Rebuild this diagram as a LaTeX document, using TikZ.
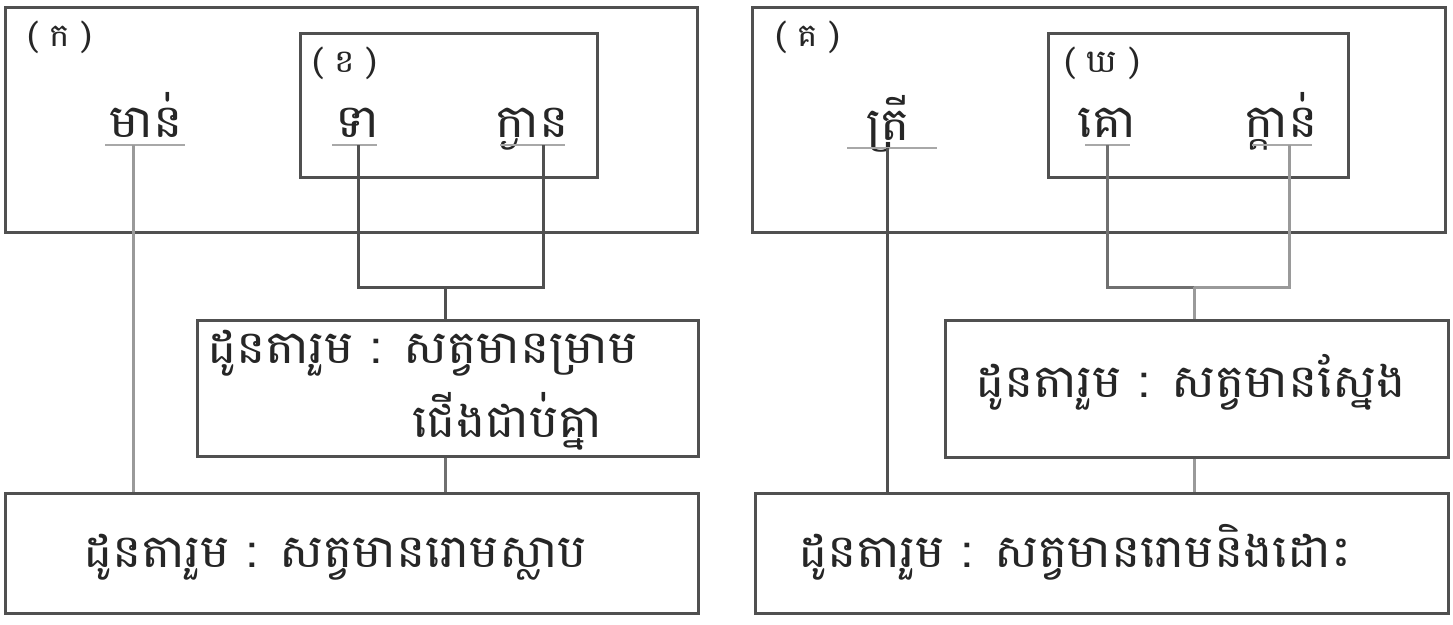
\documentclass[tikz,border=0pt]{standalone}
\usepackage{fontspec}
\newfontfamily\kh[Script=Khmer,FakeStretch=1.07]{Battambang}
\definecolor{linec}{HTML}{505050}
\definecolor{midc}{HTML}{707070}
\definecolor{lightc}{HTML}{9A9A9A}
\definecolor{ulc}{HTML}{A8A8A8}
\tikzset{
  box/.style={draw=linec, line width=3pt, inner sep=0pt},
  conn/.style={draw=linec, line width=3pt},
  mconn/.style={draw=midc, line width=3pt},
  lconn/.style={draw=lightc, line width=3pt},
  uline/.style={draw=ulc, line width=2.5pt},
  kt/.style={font=\kh\fontsize{46}{52}\selectfont, text=black!85, inner sep=0pt},
  lab/.style={font=\kh\fontsize{32}{38}\selectfont, text=black!85, inner sep=0pt},
}
\begin{document}
\begin{tikzpicture}[x=1pt,y=-1pt]
\useasboundingbox[fill=white] (0,0) rectangle (1453,624);
% ---------- left group ----------
\node[box, minimum width=692pt, minimum height=225pt] (A) at (351,119.5) {};
\node[lab] (Al) at (60,37) {( ក )};
\node[box, minimum width=297pt, minimum height=144pt] (B) at (448.5,105) {};
\node[lab] (Bl) at (345,63) {( ខ )};
\node[kt, anchor=base] (w1) at (146,137) {មាន់};
\node[kt, anchor=base] (w2) at (357,137) {ទា};
\node[kt, anchor=base] (w3) at (532,137) {ក្ងាន};
\coordinate (u1a) at (105,145); \coordinate (u1b) at (185,145);
\coordinate (u2a) at (332,145); \coordinate (u2b) at (377,145);
\coordinate (u3a) at (500,145); \coordinate (u3b) at (565,145);
\coordinate (d1) at (133,145); \coordinate (d2) at (358,145); \coordinate (d3) at (543,145);
\coordinate (j1) at (445,287);
\node[box, minimum width=501pt, minimum height=136pt] (C) at (447.5,388) {};
\node[kt, anchor=base west] (c1) at (207,363) {ដូនតារួម : សត្វមានម្រាម};
\node[kt, anchor=base west] (c2) at (412,437) {ជើងជាប់គ្នា};
\node[box, minimum width=693pt, minimum height=120pt] (D) at (351.5,553) {};
\node[kt, anchor=base west] (dtext) at (83,567) {ដូនតារួម : សត្វមានរោមស្លាប};
\draw[uline] (u1a) -- (u1b);
\draw[uline] (u2a) -- (u2b);
\draw[uline] (u3a) -- (u3b);
\draw[lconn] (d1) -- (d1 |- D.north);
\draw[conn] (d2) |- (j1) -| (d3);
\draw[conn] (j1) -- (j1 |- C.north);
\draw[mconn] (C.south -| j1) -- (D.north -| j1);
% ---------- right group ----------
\node[box, minimum width=693pt, minimum height=225pt] (E) at (1098.5,119.5) {};
\node[lab] (El) at (808,37) {( គ )};
\node[box, minimum width=300pt, minimum height=144pt] (F) at (1198,105) {};
\node[lab] (Fl) at (1102,63) {( ឃ )};
\node[kt, anchor=base] (w4) at (888,140) {ត្រី};
\node[kt, anchor=base] (w5) at (1107,137) {គោ};
\node[kt, anchor=base] (w6) at (1281,137) {ក្ដាន់};
\coordinate (u4a) at (847,148); \coordinate (u4b) at (937,148);
\coordinate (u5a) at (1085,145); \coordinate (u5b) at (1130,145);
\coordinate (u6a) at (1252,145); \coordinate (u6b) at (1312,145);
\coordinate (d4) at (887,148); \coordinate (d5) at (1107,145); \coordinate (d6) at (1289,145);
\coordinate (j2) at (1194,287);
\node[box, minimum width=503pt, minimum height=137pt] (G) at (1196.5,388.5) {};
\node[kt, anchor=base west] (gtext) at (975,397) {ដូនតារួម : សត្វមានស្នែង};
\node[box, minimum width=693pt, minimum height=120pt] (H) at (1101.5,553) {};
\node[kt, anchor=base west] (htext) at (798,567) {ដូនតារួម : សត្វមានរោមនិងដោះ};
\draw[uline] (u4a) -- (u4b);
\draw[uline] (u5a) -- (u5b);
\draw[uline] (u6a) -- (u6b);
\draw[conn] (d4) -- (d4 |- H.north);
\draw[mconn] (d5) |- (j2);
\draw[lconn] (j2) -| (d6);
\draw[lconn] (j2) -- (j2 |- G.north);
\draw[lconn] (G.south -| j2) -- (H.north -| j2);
\end{tikzpicture}
\end{document}
